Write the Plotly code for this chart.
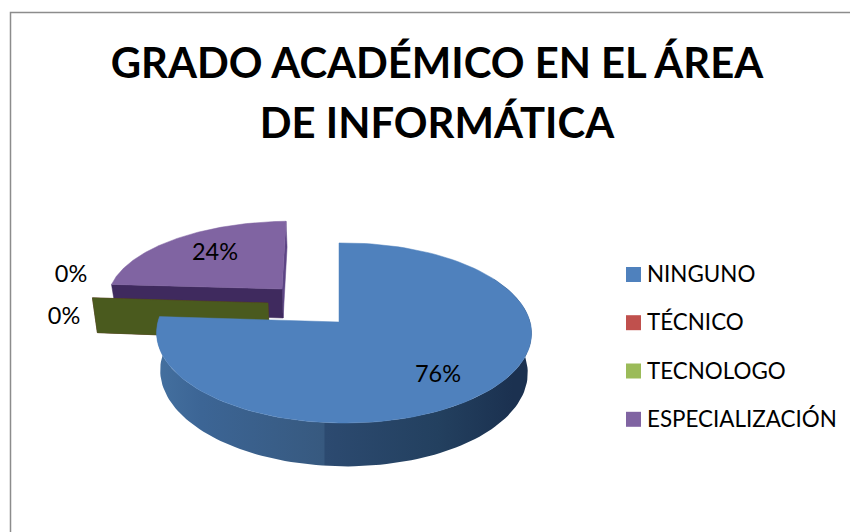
import math
import plotly.graph_objects as go

# -------------------------
# DATA
# -------------------------
categories = ["NINGUNO", "TÉCNICO", "TECNOLOGO", "ESPECIALIZACIÓN"]
values = [76, 0, 0, 24]
face_colors = ["#4f81bd", "#c0504d", "#9bbb59", "#8064a2"]
wall_colors = ["#2f4f77", "#632523", "#4a5a1e", "#3f2a5e"]
title_lines = ["GRADO ACADÉMICO EN EL ÁREA", "DE INFORMÁTICA"]

FONT = "Lato"

# each exploded slice: apex in pixels, radii, rim depth
slice_geo = {
    "NINGUNO": dict(ax=339, ay=322, b=186, a=88.7, s=0, d=38),
    "TÉCNICO": dict(ax=268, ay=303, b=182, a=85, s=0, d=36),
    "TECNOLOGO": dict(ax=268, ay=303, b=182, a=85, s=0, d=36),
    "ESPECIALIZACIÓN": dict(ax=282, ay=289, b=177, a=76, s=4.5, d=29),
}
label_pos = {
    "NINGUNO": (438, 376),
    "TÉCNICO": (64, 318),
    "TECNOLOGO": (71, 276),
    "ESPECIALIZACIÓN": (215, 254),
}
legend_rows = [274.5, 322.7, 371, 419.3]


# -------------------------
# TILTED PIE PROJECTION
# -------------------------
def project(angle, geo, low=False):
    """Pie angle in degrees, clockwise from the top, to page pixels."""
    u = math.sin(math.radians(angle))
    v = math.cos(math.radians(angle))
    den = 1 + 0.122 * v - 0.0269 * u
    x = geo["ax"] + (geo["b"] * u + geo["s"] * v) / den
    y = geo["ay"] - geo["a"] * v / den
    if low:
        x += (339 - x) * 0.02
        y += geo["d"] / den
    return x, y


def arc(start, end, geo, low=False, n=120):
    pts = [project(start + (end - start) * i / n, geo, low) for i in range(n + 1)]
    return [p[0] for p in pts], [p[1] for p in pts]


def poly(xs, ys, color, **kw):
    return go.Scatter(
        x=xs, y=ys, mode="lines", fill="toself", fillcolor=color,
        line=dict(width=0.5, color=color), hoverinfo="skip", showlegend=False, **kw
    )


def apex_low(geo):
    return geo["ax"] + (339 - geo["ax"]) * 0.02, geo["ay"] + geo["d"]


# slice angles out of the values
spans = {}
start = 0
for name, val in zip(categories, values):
    end = start + val * 3.6
    spans[name] = (start, end)
    start = end

fig = go.Figure()

# -------------------------
# ESPECIALIZACIÓN (back)
# -------------------------
name = "ESPECIALIZACIÓN"
geo = slice_geo[name]
a0, a1 = spans[name]
rx, ry = project(a0, geo)
lx, ly = project(a0, geo, low=True)
tx, ty = project(a1, geo)
bx, by = project(a1, geo, low=True)
ax2, ay2 = apex_low(geo)
fig.add_trace(poly([tx, geo["ax"], ax2, bx, tx], [ty, geo["ay"], ay2, by, ty], "#5d4585"))
fig.add_trace(poly([rx, geo["ax"], ax2, lx, rx], [ry, geo["ay"], ay2, ly, ry], wall_colors[3]))
xs, ys = arc(a0, a1, geo)
fig.add_trace(poly(xs + [geo["ax"], xs[0]], ys + [geo["ay"], ys[0]], face_colors[3]))

# -------------------------
# ZERO SLICES, ONLY A WALL
# -------------------------
for i, name in enumerate(categories):
    if values[i] != 0:
        continue
    geo = slice_geo[name]
    a0 = spans[name][0]
    rx, ry = project(a0, geo)
    lx, ly = project(a0, geo, low=True)
    ax2, ay2 = apex_low(geo)
    fig.add_trace(poly([rx, geo["ax"], ax2, lx, rx], [ry, geo["ay"], ay2, ly, ry], wall_colors[i]))

# -------------------------
# NINGUNO (front)
# -------------------------
name = "NINGUNO"
geo = slice_geo[name]
a0, a1 = spans[name]
top_x, top_y = arc(60, a1, geo)
low_x, low_y = arc(60, a1, geo, low=True)
side = poly(top_x + low_x[::-1] + [top_x[0]], top_y + low_y[::-1] + [top_y[0]], "#2f4f77")
side.update(
    fillcolor=None,
    line=dict(width=0),
    fillgradient=dict(
        type="horizontal",
        colorscale=[
            [0, "#44709f"], [0.12, "#3c6595"], [0.445, "#37597f"], [0.45, "#2c4a70"],
            [0.75, "#23405f"], [0.95, "#1b3150"], [1, "#1b3150"],
        ],
    ),
)
fig.add_trace(side)
xs, ys = arc(a0, a1, geo)
fig.add_trace(poly(xs + [geo["ax"], xs[0]], ys + [geo["ay"], ys[0]], face_colors[0]))

# -------------------------
# PERCENT LABELS
# -------------------------
fig.add_trace(go.Scatter(
    x=[label_pos[c][0] for c in categories],
    y=[label_pos[c][1] for c in categories],
    text=[f"{v}%" for v in values],
    mode="text",
    textposition="middle center",
    textfont=dict(family=FONT, size=23.5, color="#000000"),
    hoverinfo="skip",
    showlegend=False,
))

# -------------------------
# LEGEND (swatch and label per row)
# -------------------------
fig.add_trace(go.Scatter(
    x=[633.5] * len(categories), y=legend_rows, mode="markers",
    marker=dict(symbol="square", size=15, color=face_colors),
    hoverinfo="skip", showlegend=False,
))
fig.add_trace(go.Scatter(
    x=[647] * len(categories), y=[r + 2 for r in legend_rows], text=categories, mode="text",
    textposition="middle right",
    textfont=dict(family=FONT, size=22.4, color="#000000"),
    hoverinfo="skip", showlegend=False,
))

title_text = "<br>".join(f'<span style="font-size:41.8px">{t}</span>' for t in title_lines)

fig.update_layout(
    width=850,
    height=532,
    margin=dict(l=0, r=0, t=0, b=0),
    paper_bgcolor="white",
    plot_bgcolor="white",
    title=dict(
        text=title_text,
        x=437 / 850, xanchor="center",
        y=1 - 78 / 532, yanchor="top",
        font=dict(family=FONT, size=46, color="#000000", weight="bold"),
    ),
    xaxis=dict(range=[0, 850], visible=False, fixedrange=True),
    yaxis=dict(range=[532, 0], visible=False, fixedrange=True),
    shapes=[dict(
        type="rect", xref="x", yref="y", x0=10.5, y0=12.5, x1=880, y1=560,
        line=dict(color="#8c8c8c", width=1.5), layer="below",
    )],
)

# the page body has a default margin, drop it so the figure fills the window
fig.write_html(
    "out.html",
    config={"displayModeBar": False},
    post_script="document.body.style.margin = '0'; document.body.style.overflow = 'hidden';",
)
